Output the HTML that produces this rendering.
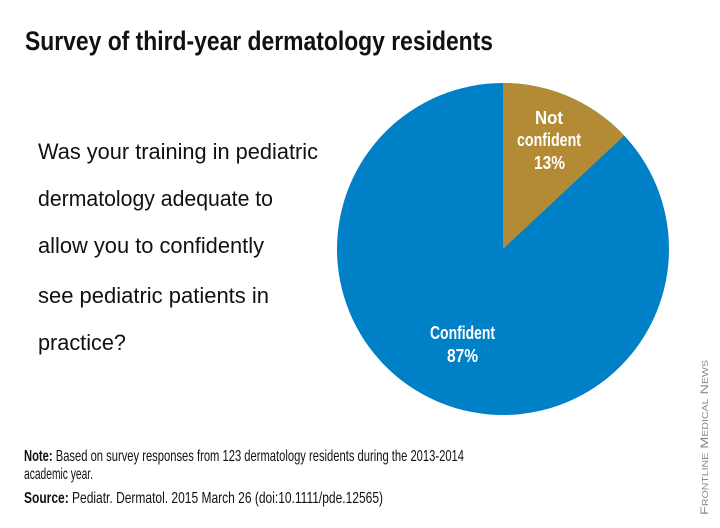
<!DOCTYPE html>
<html><head><meta charset="utf-8"><style>
html,body{margin:0;padding:0;background:#fff;}
svg{display:block;}
text{font-family:"Liberation Sans Narrow","Liberation Sans",sans-serif;}
</style></head><body>
<svg width="720" height="528" viewBox="0 0 720 528" xmlns="http://www.w3.org/2000/svg">
<text x="25" y="50" font-size="27" font-weight="bold" fill="#111" textLength="468" lengthAdjust="spacingAndGlyphs">Survey of third-year dermatology residents</text>
<g font-size="22" fill="#111">
<text x="38" y="159" textLength="280" lengthAdjust="spacingAndGlyphs">Was your training in pediatric</text>
<text x="38" y="206" textLength="235" lengthAdjust="spacingAndGlyphs">dermatology adequate to</text>
<text x="38" y="253" textLength="226" lengthAdjust="spacingAndGlyphs">allow you to confidently</text>
<text x="38" y="303" textLength="231" lengthAdjust="spacingAndGlyphs">see pediatric patients in</text>
<text x="38" y="350" textLength="88" lengthAdjust="spacingAndGlyphs">practice?</text>
</g>
<circle cx="503" cy="249" r="166" fill="#0080c6"/>
<path d="M503,249 L503,83 A166,166 0 0 1 624.2,135.6 Z" fill="#b38b35"/>
<g font-size="18" font-weight="bold" fill="#fff">
<text x="535" y="124" textLength="28" lengthAdjust="spacingAndGlyphs">Not</text>
<text x="517" y="146" textLength="64" lengthAdjust="spacingAndGlyphs">confident</text>
<text x="534" y="169" textLength="31" lengthAdjust="spacingAndGlyphs">13%</text>
<text x="430" y="339" textLength="65" lengthAdjust="spacingAndGlyphs">Confident</text>
<text x="447" y="362" textLength="31" lengthAdjust="spacingAndGlyphs">87%</text>
</g>
<g font-size="16" fill="#111">
<text x="24" y="461" textLength="440" lengthAdjust="spacingAndGlyphs"><tspan font-weight="bold">Note:</tspan> Based on survey responses from 123 dermatology residents during the 2013-2014</text>
<text x="24" y="479" textLength="69" lengthAdjust="spacingAndGlyphs">academic year.</text>
<text x="24" y="503" textLength="359" lengthAdjust="spacingAndGlyphs"><tspan font-weight="bold">Source:</tspan> Pediatr. Dermatol. 2015 March 26 (doi:10.1111/pde.12565)</text>
</g>
<text transform="translate(708,515) rotate(-90)" font-size="11" fill="#888" textLength="155" lengthAdjust="spacingAndGlyphs" style="font-variant:small-caps;font-family:'Liberation Sans',sans-serif">Frontline Medical News</text>
</svg>
</body></html>
